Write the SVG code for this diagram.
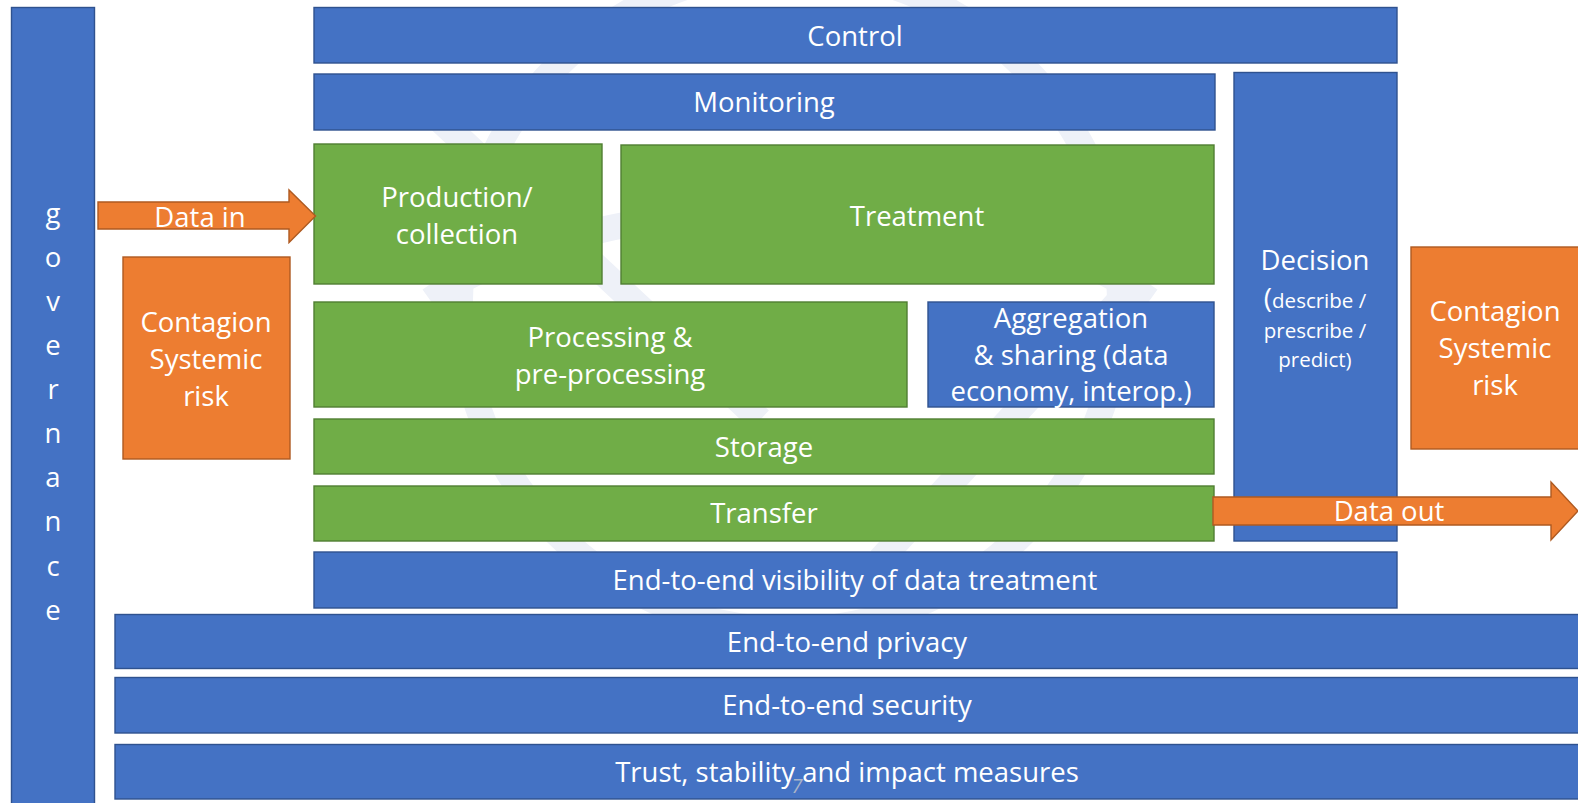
<svg xmlns="http://www.w3.org/2000/svg" width="1578" height="803" viewBox="0 0 1578 803">
<style>
.blue{fill:#4472C4;stroke:#2F528F;stroke-width:1.4}
.green{fill:#70AD47;stroke:#507E32;stroke-width:1.4}
.orange{fill:#ED7D31;stroke:#AE5A21;stroke-width:1.4}
text{font-family:"Open Sans","Liberation Sans",sans-serif;fill:#FFFFFF;font-size:27.5px;text-anchor:middle}
.sm{font-size:20.5px}
.wm{fill:none;stroke:#EEF1F8;stroke-width:26}
</style>
<rect width="1578" height="803" fill="#FFFFFF"/>
<g id="watermark">
<circle class="wm" cx="790" cy="300" r="330"/>
<path class="wm" d="M430 300 C600 180 980 180 1150 300"/>
<path class="wm" d="M440 120 L760 420"/>
<path class="wm" d="M880 560 L1120 300"/>
</g>
<g id="governance"><rect class="blue" x="11.5" y="7.5" width="83" height="800"/>
<text x="53" y="223">g</text><text x="53" y="267">o</text><text x="53" y="311">v</text><text x="53" y="355">e</text><text x="53" y="399">r</text><text x="53" y="443">n</text><text x="53" y="487">a</text><text x="53" y="531">n</text><text x="53" y="576">c</text><text x="53" y="620">e</text></g>
<g id="control"><rect class="blue" x="314" y="7.5" width="1083" height="55.5"/><text x="855" y="46">Control</text></g>
<g id="monitoring"><rect class="blue" x="314" y="74" width="901" height="56"/><text x="764" y="112">Monitoring</text></g>
<g id="production"><rect class="green" x="314" y="144" width="288" height="140"/><text x="457" y="207">Production/</text><text x="457" y="244">collection</text></g>
<g id="treatment"><rect class="green" x="621" y="145" width="593" height="139"/><text x="917" y="226">Treatment</text></g>
<g id="decision"><rect class="blue" x="1234" y="72.5" width="163" height="468.5"/><text x="1315" y="270">Decision</text><text x="1315" y="308"><tspan font-size="28">(</tspan><tspan class="sm">describe /</tspan></text><text class="sm" x="1315" y="338">prescribe /</text><text class="sm" x="1315" y="367">predict)</text></g>
<g id="processing"><rect class="green" x="314" y="302" width="593" height="105"/><text x="610" y="347">Processing &amp;</text><text x="610" y="384">pre-processing</text></g>
<g id="aggregation"><rect class="blue" x="928" y="302" width="286" height="105"/><text x="1071" y="328">Aggregation</text><text x="1071" y="365">&amp; sharing (data</text><text x="1071" y="401">economy, interop.)</text></g>
<g id="storage"><rect class="green" x="314" y="419" width="900" height="55"/><text x="764" y="457">Storage</text></g>
<g id="transfer"><rect class="green" x="314" y="486" width="900" height="55"/><text x="764" y="523">Transfer</text></g>
<g id="visibility"><rect class="blue" x="314" y="552" width="1083" height="56"/><text x="855" y="590">End-to-end visibility of data treatment</text></g>
<g id="privacy"><rect class="blue" x="115" y="614.5" width="1470" height="54"/><text x="847" y="652">End-to-end privacy</text></g>
<g id="security"><rect class="blue" x="115" y="677.5" width="1470" height="55.5"/><text x="847" y="715">End-to-end security</text></g>
<g id="trust"><rect class="blue" x="115" y="744.5" width="1470" height="54.5"/><text x="847" y="782">Trust, stability and impact measures</text></g>
<g id="contagion-left"><rect class="orange" x="123" y="257" width="167" height="202"/><text x="206" y="332">Contagion</text><text x="206" y="369">Systemic</text><text x="206" y="406">risk</text></g>
<g id="contagion-right"><rect class="orange" x="1411" y="247" width="175" height="202"/><text x="1495" y="321">Contagion</text><text x="1495" y="358">Systemic</text><text x="1495" y="395">risk</text></g>
<g id="connectors">
<g id="data-in"><polygon class="orange" points="98,202 289,202 289,190 315.5,216 289,242.5 289,229 98,229"/><text x="200" y="227">Data in</text></g>
<g id="data-out"><polygon class="orange" points="1213,497 1551,497 1551,482 1578,511 1551,540 1551,525 1213,525"/><text x="1389" y="521">Data out</text></g>
</g>
<text x="797" y="793" style="font-size:20px;fill:#AAB4C8;font-style:italic">7</text>
</svg>
